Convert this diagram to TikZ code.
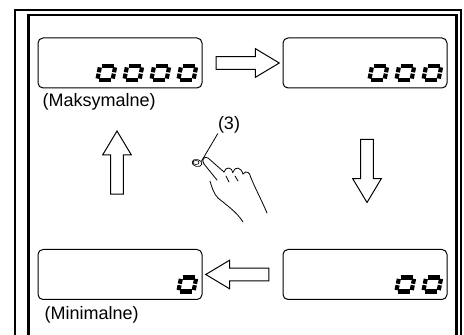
\documentclass[tikz,border=0pt]{standalone}
\usepackage{fontspec}
\setmainfont{Liberation Sans}
\usetikzlibrary{shapes.arrows,shapes.geometric,calc}

\tikzset{
  frame/.style={line width=2.6pt},
  display/.style={draw, line width=1pt, rounded corners=5pt,
    minimum width=164pt, minimum height=50pt, inner sep=0pt},
  blockarrow/.style={single arrow, draw, line width=1pt, inner sep=0pt,
    inner ysep=5.8pt, minimum height=63pt, single arrow head extend=8pt,
    single arrow tip angle=62, single arrow head indent=0pt},
  segment/.style={line width=4.2pt},
  caption/.style={font=\fontsize{18}{20}\selectfont, inner sep=0pt},
  hand/.style={line width=0.8pt, line cap=round, line join=round}
}

% one seven-segment zero, lower left corner at #1
\newcommand\lcdzero[1]{%
  \begin{scope}[shift={#1}, xslant=0.2]
    \draw[segment] (3.4,16) -- (16,16);
    \draw[segment] (3.4,2) -- (16,2);
    \draw[segment] (2,14.6) -- (2,9.7);
    \draw[segment] (2,8.3) -- (2,3.4);
    \draw[segment] (17.2,14.6) -- (17.2,9.7);
    \draw[segment] (17.2,8.3) -- (17.2,3.4);
  \end{scope}}

% #2 zeros, right aligned in display #1
\newcommand\lcdrow[2]{%
  \foreach \i in {1,...,#2}{\lcdzero{($(#1.south east)+({-26.6-27*(\i-1)},6.5)$)}}}

\begin{document}
\begin{tikzpicture}[x=1pt, y=1pt]
\useasboundingbox (0,0) rectangle (464,335);

\draw[frame] (15,0) |- (461,325) -- (461,0);
\draw[frame] (28.5,0) |- (456.5,320) -- (456.5,0);

\node[display] (max) at (120,272) {};
\node[display] (three) at (365,272) {};
\node[display] (two) at (365,60.5) {};
\node[display] (min) at (120,60.5) {};

\lcdrow{max}{4}
\lcdrow{three}{3}
\lcdrow{two}{2}
\lcdrow{min}{1}

\node[caption, anchor=north west] at ($(max.south west)+(5,-5)$) {(Maksymalne)};
\node[caption, anchor=north west] at ($(min.south west)+(7,-6)$) {(Minimalne)};

\node[blockarrow] at ($(max.east)!0.5!(three.west)$) {};
\node[blockarrow, rotate=-90] at ($(three.south)!0.5!(two.north)+(2,3)$) {};
\node[blockarrow, rotate=180] at ($(two.west)!0.5!(min.east)$) {};
\node[blockarrow, rotate=90] at ($(min.north)!0.5!(max.south)+(-3,1)$) {};

% push button and pointing hand
\node[draw, ellipse, line width=0.7pt, minimum width=10pt, minimum height=7pt,
  inner sep=0pt, rotate=-15] (button) at (197,172) {};
\draw[line width=0.6pt] (196,172.5) ellipse (3pt and 2pt);
\node[caption] (callout) at (229,210) {(3)};
\draw[line width=0.8pt] (callout.south west) -- (button.north east);

\begin{scope}[shift={(0,335)}, yscale=-1, hand]
  \draw (204,164) .. controls (201,161) and (204,155) .. (208,158) -- (224,172);
  \draw (204,164) -- (217,180);
  \draw (224,172) .. controls (226,166) and (232,167) .. (233,173);
  \draw (233,172) .. controls (235,166) and (241,167) .. (243,174);
  \draw (243,174) .. controls (246,170) and (250,172) .. (251,178)
        .. controls (256,190) and (262,201) .. (267,213);
  \draw (226,176) -- (229,182);
  \draw (235,176) -- (238,181);
  \draw (210,181) .. controls (212,188) and (214,194) .. (218,198);
  \draw (218,198) .. controls (225,204) and (237,212) .. (243,222);
\end{scope}
\end{tikzpicture}
\end{document}
